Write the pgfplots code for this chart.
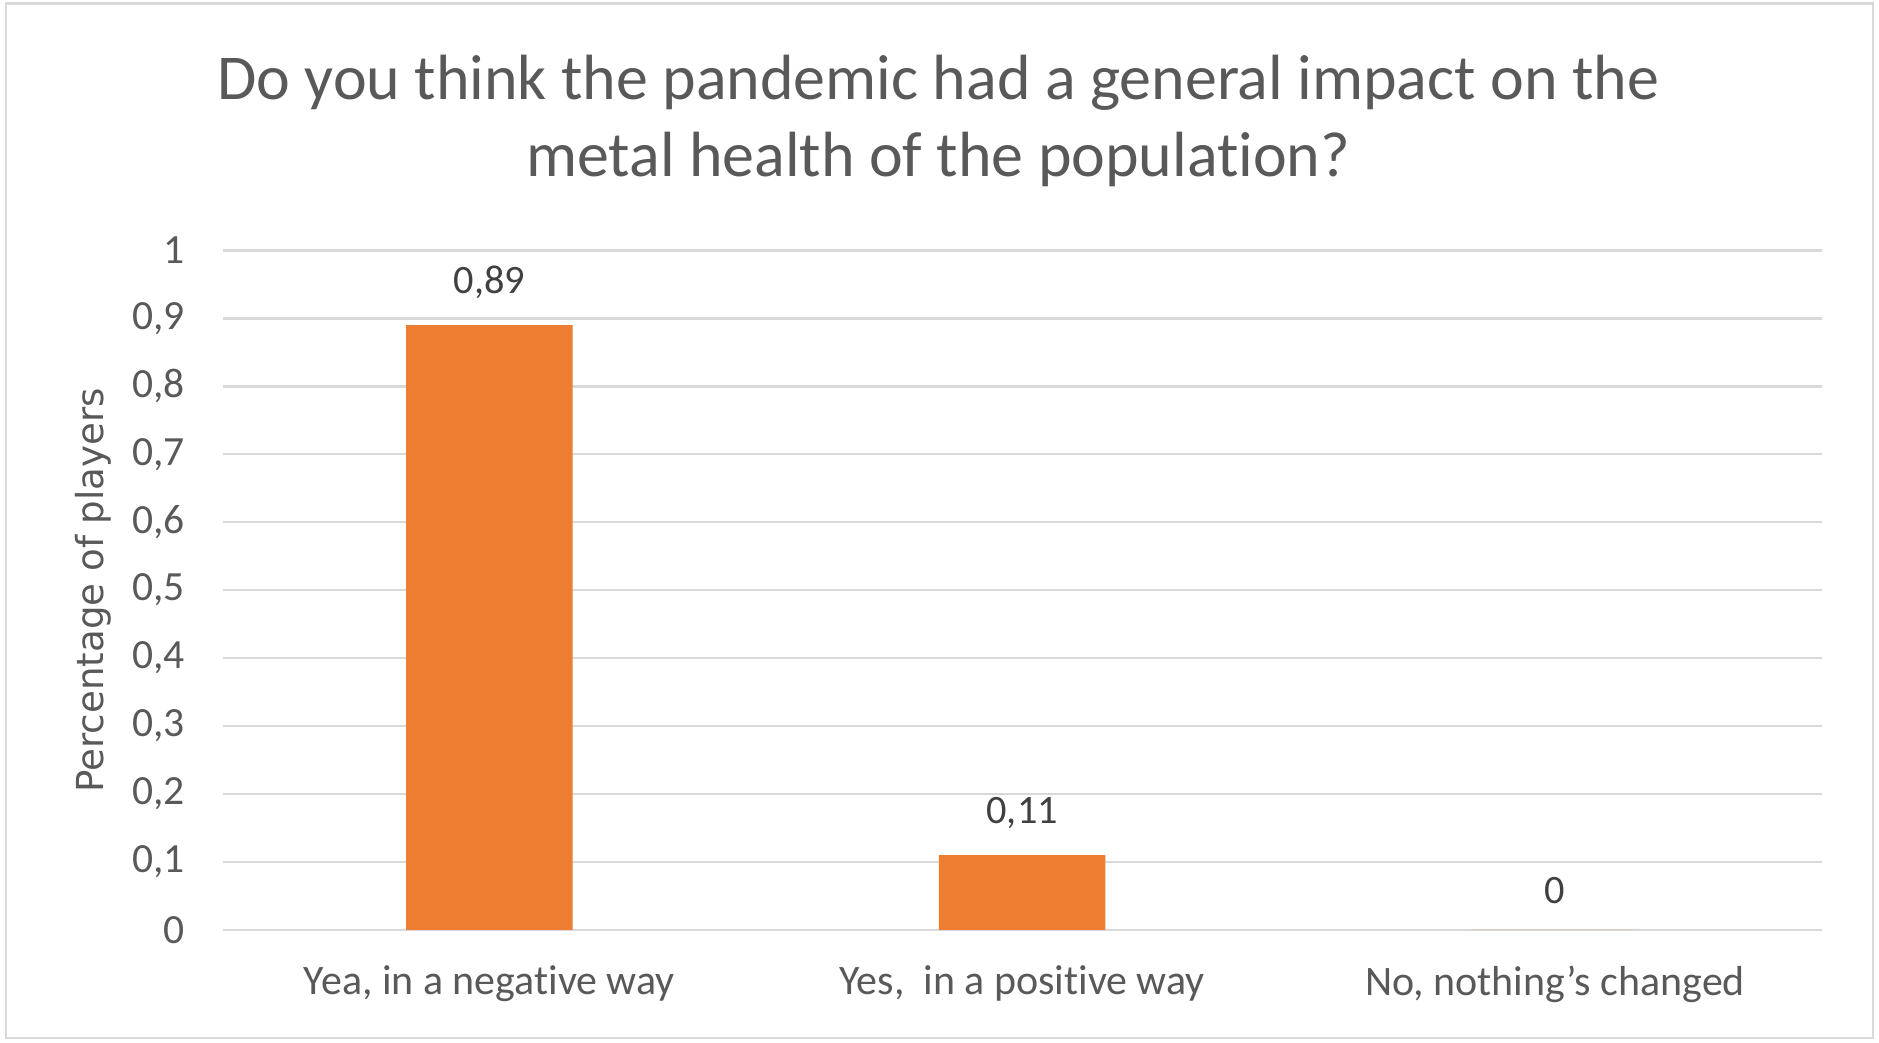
\documentclass[border=0pt]{standalone}
\usepackage{fontspec}
\setmainfont[Ligatures=NoCommon]{Carlito}
\newfontfamily\ylabfont{DejaVu Sans}
\usepackage{pgfplots}
\pgfplotsset{compat=1.18}
\definecolor{barorange}{HTML}{ED7D31}
\definecolor{txtgray}{HTML}{595959}
\definecolor{valgray}{HTML}{404040}
\definecolor{gridgray}{HTML}{D9D9D9}
\begin{document}
\begin{tikzpicture}
\path[fill=white] (0,0) rectangle (470.4pt,261pt);
\draw[gridgray, line width=0.6pt] (1.5pt,1.2pt) rectangle (468.9pt,260.1pt);
\node[align=center, font=\fontsize{16}{19.2}\selectfont, text=txtgray] at (234.9pt,230.7pt)
  {Do you think the pandemic had a general impact on the\\metal health of the population?};
\begin{axis}[
  at={(55.8pt,28.2pt)}, anchor=south west,
  scale only axis, width=400.2pt, height=170.1pt,
  xmin=-0.5, xmax=2.5, ymin=0, ymax=1,
  ytick={0,0.1,0.2,0.3,0.4,0.5,0.6,0.7,0.8,0.9,1},
  xtick={0,1,2},
  xticklabels={{Yea, in a negative way},{Yes,\ \ in a positive way},{No, nothing’s changed}},
  axis line style={draw=none},
  major tick length=0pt,
  ymajorgrids, grid style={gridgray, line width=0.6pt},
  /pgf/number format/use comma,
  /pgf/number format/assume math mode=true,
  yticklabel style={font=\fontsize{10.4}{12}\selectfont, text=txtgray, xshift=-6pt},
  xticklabel style={font=\fontsize{10.5}{12}\selectfont, text=txtgray, yshift=-5.5pt},
  ylabel={Percentage of players},
  ylabel style={font=\ylabfont\fontsize{9.3}{11}\selectfont, text=txtgray, at={(axis description cs:-0.081,0.5)}, anchor=center},
  ybar, bar width=41.7pt,
  nodes near coords,
  nodes near coords style={font=\fontsize{10.1}{12}\selectfont, text=valgray, yshift=3pt},
  clip=false,
]
\addplot[fill=barorange, draw=none] coordinates {(0,0.89) (1,0.11) (2,0)};
\end{axis}
\end{tikzpicture}
\end{document}
